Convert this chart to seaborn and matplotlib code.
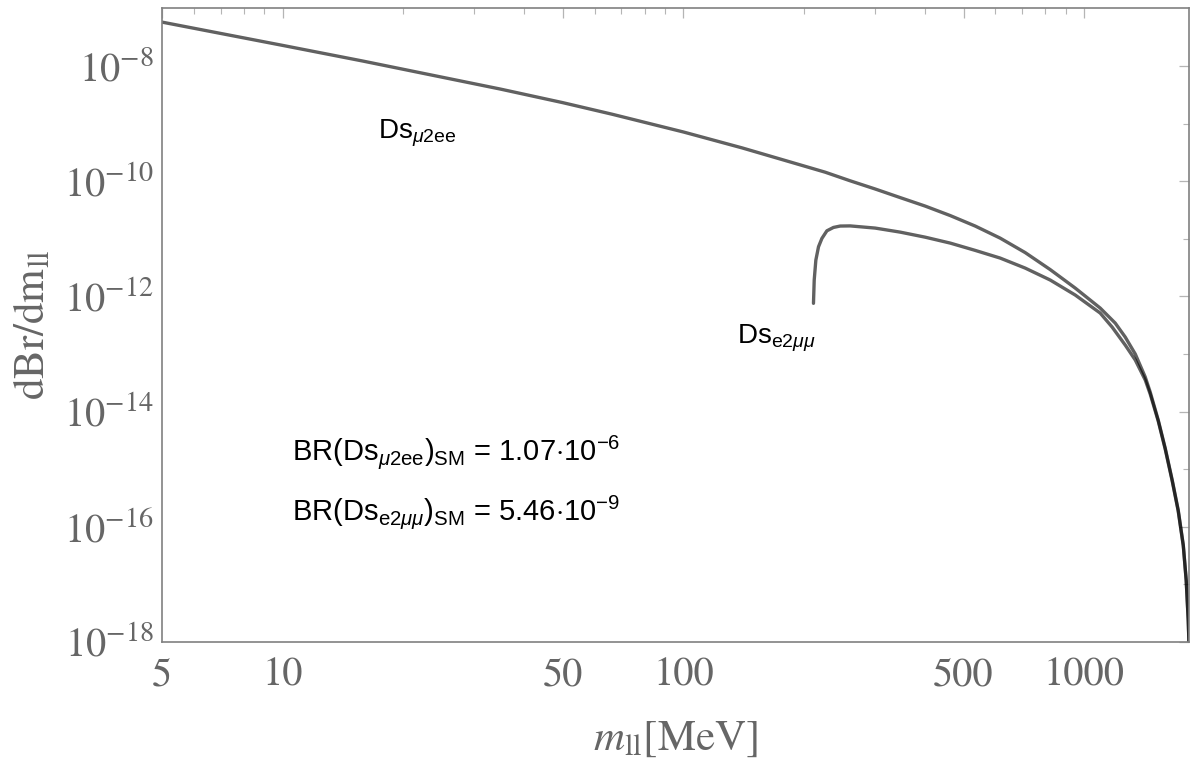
import numpy as np
import pandas as pd
import seaborn as sns
import matplotlib.pyplot as plt
import matplotlib.ticker as mticker

# values (m_ll in MeV, dBr/dm_ll)
m_mu2ee = [5.0, 10.0, 15.8, 34.9, 50.0, 66.4, 100.0, 140.1, 195.5, 225.7, 260.6,
           300.9, 347.4, 401.1, 463.1, 534.6, 617.1, 712.4, 822.5, 949.5, 1096.2,
           1195.0, 1266.0, 1341.0, 1420.0, 1461.0, 1530.0, 1592.5, 1658.0, 1716.0,
           1767.0, 1797.0, 1818.0, 1828.0]
br_mu2ee = [5.81e-8, 2.29e-8, 1.23e-8, 4.0e-9, 2.32e-9, 1.46e-9, 7.18e-10, 3.80e-10,
            1.93e-10, 1.44e-10, 1.02e-10, 7.35e-11, 5.21e-11, 3.71e-11, 2.54e-11,
            1.67e-11, 1.03e-11, 5.78e-12, 2.93e-12, 1.40e-12, 6.29e-13, 3.45e-13,
            1.97e-13, 1.0e-13, 3.99e-14, 2.19e-14, 7.14e-15, 2.33e-15, 6.49e-16,
            1.96e-16, 4.83e-17, 1.19e-17, 2.41e-18, 7.26e-19]

m_e2mumu = [211.1, 212.0, 214.0, 217.3, 221.6, 228.0, 236.8, 246.1, 260.6, 300.9,
            347.4, 401.1, 463.1, 534.6, 617.1, 712.4, 822.5, 949.5, 1096.2, 1174.0,
            1266.0, 1341.0, 1420.0, 1461.0, 1530.0, 1592.5, 1658.0, 1716.0, 1767.0,
            1797.0, 1818.0, 1828.0]
br_e2mumu = [7.6e-13, 1.93e-12, 4.28e-12, 7.30e-12, 1.02e-11, 1.38e-11, 1.58e-11,
             1.67e-11, 1.68e-11, 1.54e-11, 1.31e-11, 1.07e-11, 8.45e-12, 6.31e-12,
             4.64e-12, 3.11e-12, 1.93e-12, 1.06e-12, 5.15e-13, 2.94e-13, 1.43e-13,
             7.87e-14, 3.54e-14, 2.02e-14, 6.87e-15, 2.24e-15, 6.24e-16, 1.88e-16,
             4.64e-17, 1.15e-17, 2.32e-18, 7.26e-19]

x_major = [5, 10, 50, 100, 500, 1000]
x_minor = [6, 7, 8, 9, 20, 30, 40, 60, 70, 80, 90, 200, 300, 400, 600, 700, 800, 900]
y_major = [1e-18, 1e-16, 1e-14, 1e-12, 1e-10, 1e-8]
y_minor = [1e-17, 1e-15, 1e-13, 1e-11, 1e-9]

df1 = pd.DataFrame({'m': m_mu2ee, 'br': br_mu2ee})
df2 = pd.DataFrame({'m': m_e2mumu, 'br': br_e2mumu})

sns.set_style('white')
plt.rcParams['mathtext.fontset'] = 'stix'
plt.rcParams['mathtext.rm'] = 'Liberation Sans'
plt.rcParams['mathtext.it'] = 'Liberation Sans:italic'
plt.rcParams['mathtext.bf'] = 'Liberation Sans:bold'

grey = '#666666'

fig = plt.figure(figsize=(12, 7.65), dpi=100)
ax = fig.add_axes([0.135, 0.1608, 0.856, 0.8287])

sns.lineplot(data=df1, x='m', y='br', color='black', alpha=0.62, lw=2.4, ax=ax,
             sort=False, estimator=None)
sns.lineplot(data=df2, x='m', y='br', color='black', alpha=0.62, lw=2.4, ax=ax,
             sort=False, estimator=None)

ax.set_xscale('log')
ax.set_yscale('log')
ax.set_xlim(5, 1828)
ax.set_ylim(1e-18, 1.02e-7)

ax.xaxis.set_major_locator(mticker.FixedLocator(x_major))
ax.xaxis.set_minor_locator(mticker.FixedLocator(x_minor))
ax.xaxis.set_major_formatter(mticker.FuncFormatter(lambda v, p: f'{v:g}'))
ax.xaxis.set_minor_formatter(mticker.NullFormatter())
ax.yaxis.set_major_locator(mticker.FixedLocator(y_major))
ax.yaxis.set_minor_locator(mticker.FixedLocator(y_minor))
ax.yaxis.set_major_formatter(mticker.LogFormatterSciNotation())
ax.yaxis.set_minor_formatter(mticker.NullFormatter())

ax.tick_params(which='both', direction='in', top=True, right=True,
               color='#b5b5b5', labelcolor=grey, labelsize=29)
ax.tick_params(which='major', length=7, width=0.9)
ax.tick_params(which='minor', length=4, width=0.8)
ax.tick_params(axis='x', pad=11)
ax.tick_params(axis='y', pad=6)
for lab in ax.get_xticklabels() + ax.get_yticklabels():
    lab.set_fontfamily('STIXGeneral')
for s in ax.spines.values():
    s.set_color('#808080')
    s.set_linewidth(1.2)

ax.set_xlabel(r'$m_{\mathrm{ll}}$[MeV]', fontsize=31, color=grey,
              family='STIXGeneral', labelpad=18)
ax.set_ylabel(r'dBr/dm$_{\mathrm{ll}}$', fontsize=31, color=grey,
              family='STIXGeneral', labelpad=8)

txt = dict(transform=ax.transAxes, family='Liberation Sans', math_fontfamily='custom',
           color='black', va='center', ha='left')
ax.text(0.210, 0.803, r'Ds$_{\mu\mathrm{2ee}}$', fontsize=20, **txt)
ax.text(0.560, 0.479, r'Ds$_{\mathrm{e2}\mu\mu}$', fontsize=20, **txt)
ax.text(0.127, 0.300, r'BR(Ds$_{\mu\mathrm{2ee}}$)$_{\mathrm{SM}}$ = 1.07$\cdot$10$^{-6}$',
        fontsize=21, **txt)
ax.text(0.127, 0.205, r'BR(Ds$_{\mathrm{e2}\mu\mu}$)$_{\mathrm{SM}}$ = 5.46$\cdot$10$^{-9}$',
        fontsize=21, **txt)

fig.savefig('out.png', dpi=100)
